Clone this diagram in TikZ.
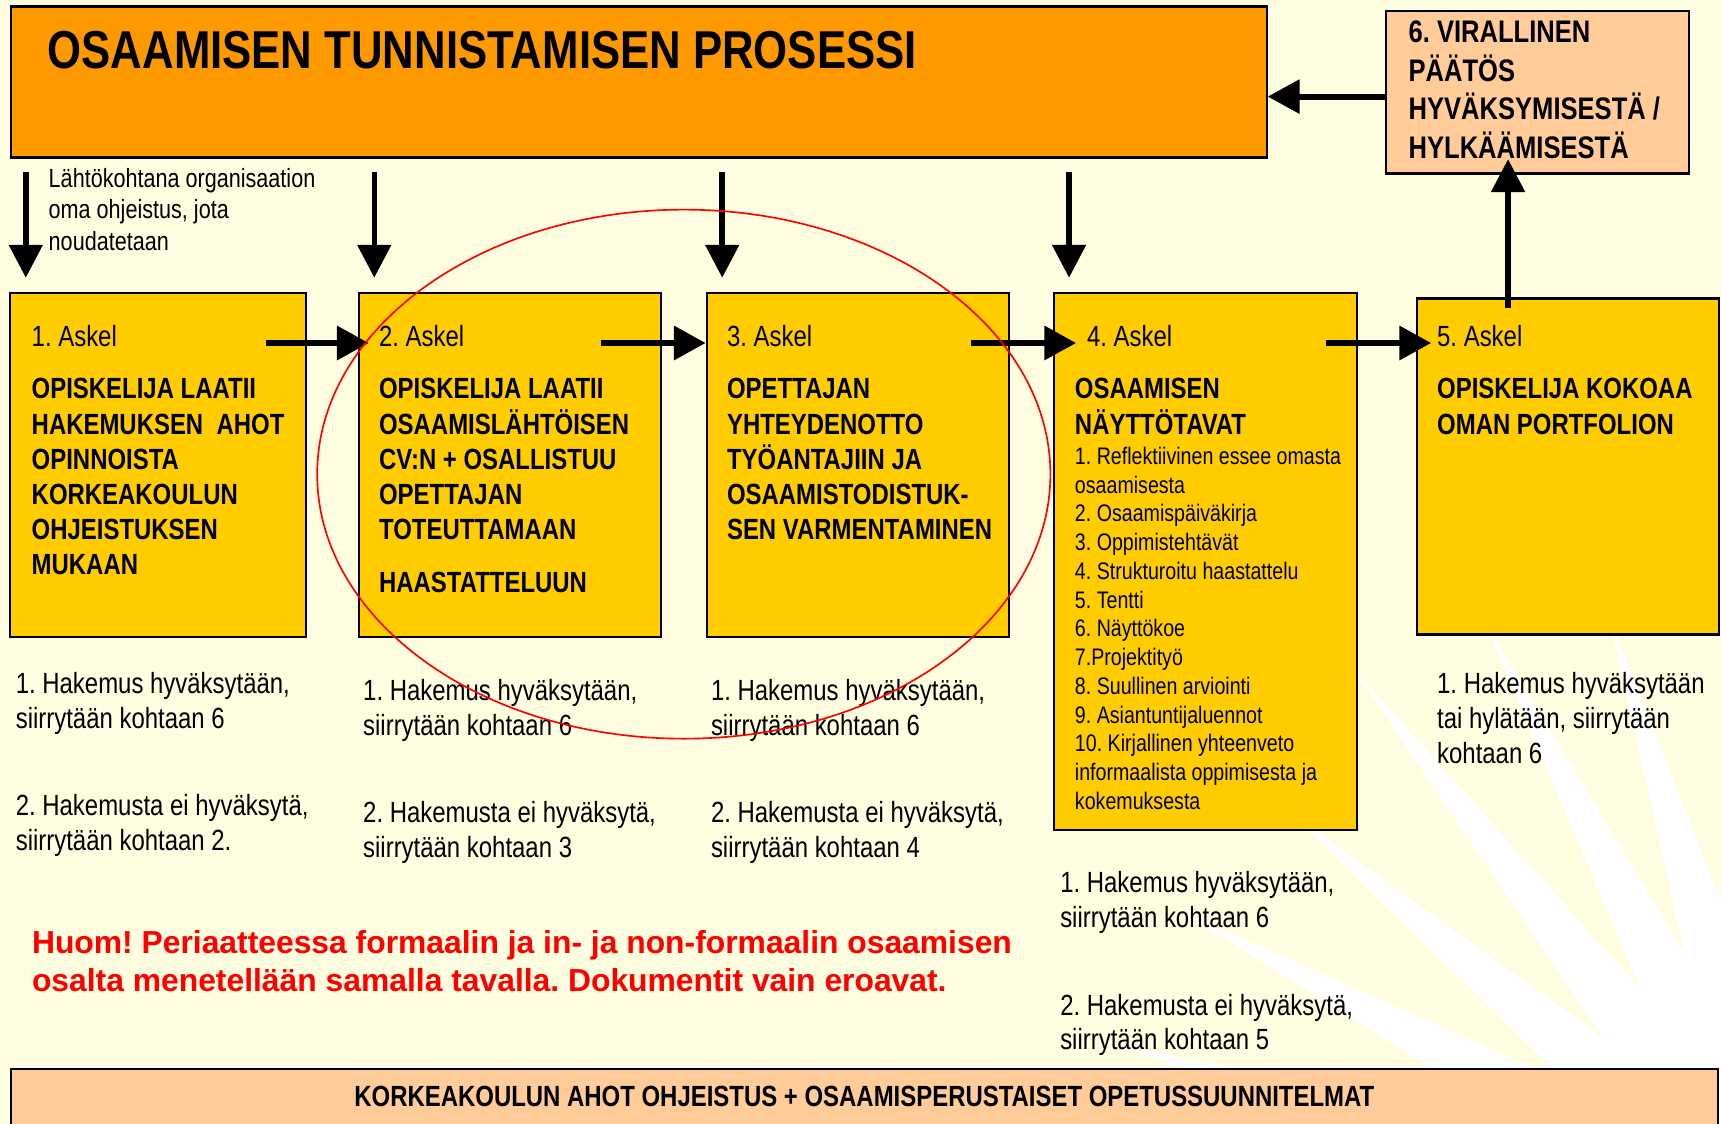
\documentclass[tikz,border=0pt]{standalone}
\usepackage{fontspec}
\newfontfamily\nar{Liberation Sans}[FakeStretch=0.82]
\newfontfamily\wid{Liberation Sans}
\usetikzlibrary{arrows.meta,fit,shapes.geometric}
\definecolor{bgy}{HTML}{FFFDE0}
\definecolor{orng}{HTML}{FF9900}
\definecolor{byel}{HTML}{FFCC00}
\definecolor{peach}{HTML}{FFCC99}
\definecolor{redt}{HTML}{FF0000}
\newcommand\blk[6]{\foreach \ltx [count=\nn] in {#6}{\node[#5] (#1\nn) at (#2,{#3+(\nn-1)*#4}) {\ltx};}}
\tikzset{
 box/.style={draw=black,line width=1pt,fill=byel,inner sep=0pt},
 pbox/.style={box,fill=peach},
 obox/.style={box,fill=orng},
 txt/.style={anchor=base west,inner sep=0pt,font=\nar\fontsize{13.3}{16}\selectfont},
 btxt/.style={txt,font=\nar\bfseries\fontsize{13.3}{16}\selectfont},
 ltxt/.style={txt,font=\nar\fontsize{10.9}{13}\selectfont},
 atxt/.style={txt,font=\nar\fontsize{12}{14}\selectfont},
 stxt/.style={txt,font=\nar\bfseries\fontsize{14.2}{17}\selectfont},
 rtxt/.style={txt,text=redt,font=\wid\bfseries\fontsize{14.5}{17}\selectfont},
 ttxt/.style={txt,font=\nar\bfseries\fontsize{24.3}{28}\selectfont},
 darr/.style={line width=2.5pt,-{Triangle[length=15pt,width=15pt]}},
 harr/.style={line width=3pt,-{Triangle[length=14.5pt,width=15pt]}},
 oval/.style={draw=redt,line width=0.75pt},
}
\begin{document}
\frenchspacing
\begin{tikzpicture}[x=0.5pt,y=-0.5pt]
\useasboundingbox (0,0) rectangle (1568,1024);
\fill[bgy] (0,0) rectangle (1568,1024);
% sunburst
\begin{scope}[shift={(1640,1130)}]
\fill[white] (0,0) circle (90);
\foreach \ang/\rad in {-84/560,-95/590,-107/600,-117/630,-128/660,-140/610,-152/640,-164/660,-176/640}
 {\fill[white] ({\ang+90}:45) -- (\ang:\rad) -- ({\ang-90}:45) -- cycle;}
\end{scope}
% boxes
\node[obox,fit={(10,6) (1154,143.5)}] (title) {};
\node[pbox,fit={(1263,9.7) (1539,158)}] (b6) {};
\node[box,fit={(9,267) (279,580)}] (b1) {};
\node[box,fit={(327,267) (602,580)}] (b2) {};
\node[box,fit={(644,267) (919,580)}] (b3) {};
\node[box,fit={(960,267) (1236,756)}] (b4) {};
\node[box,fit={(1291,272) (1566,578)}] (b5) {};
\node[pbox,fit={(10,974) (1565,1040)}] (bot) {};
% texts
\node[ttxt] (titletext) at (43,62) {OSAAMISEN TUNNISTAMISEN PROSESSI};
\blk{s6}{1283}{39}{35}{stxt}{{6. VIRALLINEN},{PÄÄTÖS},{HYVÄKSYMISESTÄ /},{HYLKÄÄMISESTÄ}}
\blk{an}{44}{171}{28.5}{atxt}{{Lähtökohtana organisaation},{oma ohjeistus, jota},{noudatetaan}}
\node[txt] (h1) at (28.5,316) {1. Askel};
\blk{t1}{28.5}{363.5}{32}{btxt}{{OPISKELIJA LAATII},{HAKEMUKSEN\ \ AHOT},{OPINNOISTA},{KORKEAKOULUN},{OHJEISTUKSEN},{MUKAAN}}
\node[txt] (h2) at (345,316) {2. Askel};
\blk{t2}{345}{363.5}{32}{btxt}{{OPISKELIJA LAATII},{OSAAMISLÄHTÖISEN},{CV:N + OSALLISTUU},{OPETTAJAN},{TOTEUTTAMAAN}}
\node[btxt] (t2x) at (345,539.5) {HAASTATTELUUN};
\node[txt] (h3) at (662,316) {3. Askel};
\blk{t3}{662}{363.5}{32}{btxt}{{OPETTAJAN},{YHTEYDENOTTO},{TYÖANTAJIIN JA},{OSAAMISTODISTUK-},{SEN VARMENTAMINEN}}
\node[txt] (h4) at (990,316) {4. Askel};
\blk{t4}{979}{363.5}{32}{btxt}{{OSAAMISEN},{NÄYTTÖTAVAT}}
\blk{l4}{979}{423}{26.2}{ltxt}{{1. Reflektiivinen essee omasta},{osaamisesta},{2. Osaamispäiväkirja},{3. Oppimistehtävät},{4. Strukturoitu haastattelu},{5. Tentti},{6. Näyttökoe},{7.Projektityö},{8. Suullinen arviointi},{9. Asiantuntijaluennot},{10. Kirjallinen yhteenveto},{informaalista oppimisesta ja},{kokemuksesta}}
\node[txt] (h5) at (1309,316) {5. Askel};
\blk{t5}{1309}{363.5}{32}{btxt}{{OPISKELIJA KOKOAA},{OMAN PORTFOLION}}
% outcome texts
\blk{c1a}{14}{631.7}{32}{txt}{{1. Hakemus hyväksytään,},{siirrytään kohtaan 6}}
\blk{c1b}{14}{743}{32}{txt}{{2. Hakemusta ei hyväksytä,},{siirrytään kohtaan 2.}}
\blk{c2a}{330.5}{637.8}{32}{txt}{{1. Hakemus hyväksytään,},{siirrytään kohtaan 6}}
\blk{c2b}{330.5}{749.5}{32}{txt}{{2. Hakemusta ei hyväksytä,},{siirrytään kohtaan 3}}
\blk{c3a}{647.4}{637.8}{32}{txt}{{1. Hakemus hyväksytään,},{siirrytään kohtaan 6}}
\blk{c3b}{647.4}{749.5}{32}{txt}{{2. Hakemusta ei hyväksytä,},{siirrytään kohtaan 4}}
\blk{c4a}{965.6}{813.3}{31.5}{txt}{{1. Hakemus hyväksytään,},{siirrytään kohtaan 6}}
\blk{c4b}{965.6}{924.8}{31.5}{txt}{{2. Hakemusta ei hyväksytä,},{siirrytään kohtaan 5}}
\blk{c5}{1309}{631.6}{32}{txt}{{1. Hakemus hyväksytään},{tai hylätään, siirrytään},{kohtaan 6}}
\blk{red}{28.8}{868.6}{35}{rtxt}{{Huom! Periaatteessa formaalin ja in- ja non-formaalin osaamisen},{osalta menetellään samalla tavalla. Dokumentit vain eroavat.}}
\node[btxt,anchor=base] (bottext) at (787.5,1008) {KORKEAKOULUN AHOT OHJEISTUS + OSAAMISPERUSTAISET OPETUSSUUNNITELMAT};
% arrows
\foreach \xx [count=\ii] in {23.5,341,658,974}{
 \coordinate (d\ii s) at (\xx,157);
 \coordinate (d\ii e) at (\xx,253);
 \draw[darr] (d\ii s) -- (d\ii e);}
\coordinate (a1s) at (242,312.5);   \coordinate (a1e) at (336,312.5);
\coordinate (a2s) at (547.5,312.5); \coordinate (a2e) at (643,312.5);
\coordinate (a3s) at (885,312.5);   \coordinate (a3e) at (980.5,312.5);
\coordinate (a4s) at (1208,312.5);  \coordinate (a4e) at (1304,312.5);
\draw[harr] (a1s) -- (a1e);
\draw[harr] (a2s) -- (a2e);
\draw[harr] (a3s) -- (a3e);
\draw[harr] (a4s) -- (a4e);
\coordinate (c6) at (1263,88);
\draw[line width=2.75pt,-{Triangle[length=14.5pt,width=15pt]}] (c6) -- (c6 -| title.east);
\coordinate (u0) at (1374,281);
\coordinate (u1) at (1374,145);
\draw[darr] (u0) -- (u1);
% red oval
\node[oval,ellipse,minimum width=334pt,minimum height=241pt,inner sep=0pt] (ov) at (623,432) {};
\end{tikzpicture}
\end{document}
